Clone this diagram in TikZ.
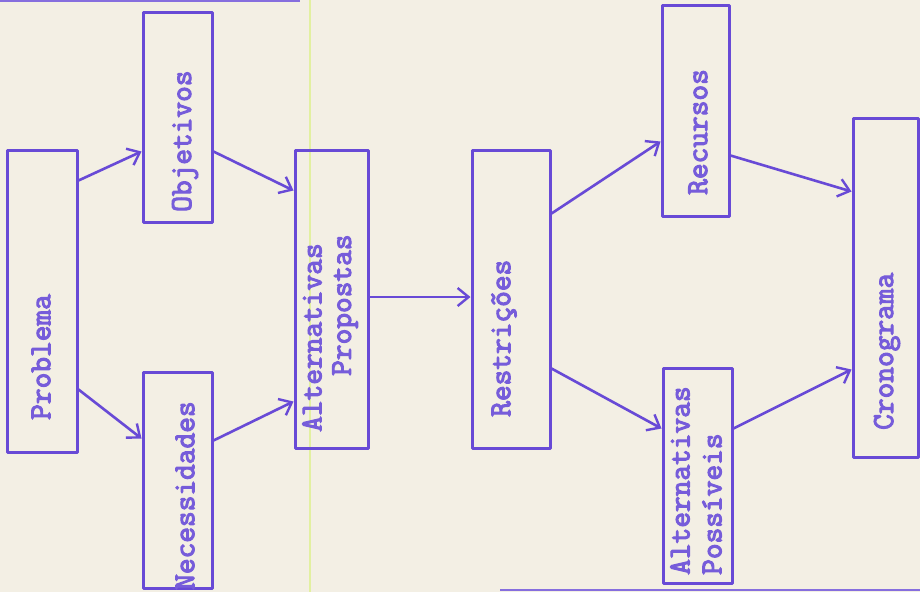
\documentclass[tikz,border=0pt]{standalone}
\usepackage{fontspec}
\setmonofont{Latin Modern Mono}[FakeBold=3.6]
\usetikzlibrary{arrows.meta}
\definecolor{paper}{RGB}{243,239,228}
\definecolor{ink}{RGB}{104,74,214}
\definecolor{typeink}{RGB}{118,92,218}
\definecolor{streak}{RGB}{226,240,160}
\tikzset{
  box/.style={draw=ink, line width=3pt, line join=round, rectangle, inner sep=0pt},
  lbl/.style={text=typeink, rotate=90, anchor=west, inner sep=0pt,
              font=\ttfamily\bfseries\fontsize{30.5}{34}\selectfont},
  conn/.style={draw=ink, line width=2.6pt, line cap=round,
               -{Straight Barb[length=11pt,width=18pt,line width=2.4pt]}},
  edgeline/.style={draw=ink!80, line width=2pt}
}
\begin{document}
\begin{tikzpicture}[x=1pt,y=-1pt]
\useasboundingbox (0,0) rectangle (920,592);
\fill[paper] (0,0) rectangle (920,592);
\draw[streak, line width=1.5pt] (310,0) -- (310,592);
\draw[edgeline] (0,1) -- (300,1);
\draw[edgeline] (500,590) -- (920,590);

% boxes
\node[box, minimum width=70pt, minimum height=302pt] (prob) at (42,301) {};
\node[box, minimum width=69pt, minimum height=210pt] (obj) at (177.5,117) {};
\node[box, minimum width=69pt, minimum height=216pt] (nec) at (177.5,480) {};
\node[box, minimum width=73pt, minimum height=298pt] (altp) at (331.5,299) {};
\node[box, minimum width=78pt, minimum height=298pt] (rest) at (511,299) {};
\node[box, minimum width=67pt, minimum height=211pt] (rec) at (695.5,110.5) {};
\node[box, minimum width=69pt, minimum height=215pt] (altpos) at (697.5,475.5) {};
\node[box, minimum width=65pt, minimum height=339pt] (cron) at (885.5,287.5) {};

% labels
\node[lbl] (tprob) at (41,420) {Problema};
\node[lbl] (tobj) at (185,212) {Objetivos};
\node[lbl] (tnec) at (185,590) {Necessidades};
\node[lbl] (taltp1) at (312,432) {Alternativas};
\node[lbl] (taltp2) at (345,376) {Propostas};
\node[lbl] (trest) at (504,417) {Restrições};
\node[lbl] (trec) at (698,195) {Recursos};
\node[lbl] (taltpos1) at (680,575) {Alternativas};
\node[lbl] (taltpos2) at (712,575) {Possíveis};
\node[lbl] (tcron) at (887,430) {Cronograma};

% connectors
\draw[conn] ([yshift=-32pt]prob.north east) -- ([yshift=-141pt]obj.north west);
\draw[conn] ([yshift=64pt]prob.south east) -- ([yshift=-68pt]nec.north west);
\draw[conn] ([yshift=-141pt]obj.north east) -- ([yshift=-42pt]altp.north west);
\draw[conn] ([yshift=-70pt]nec.north east) -- ([yshift=48pt]altp.south west);
\draw[conn] ([yshift=2pt]altp.east) -- ([yshift=2pt]rest.west);
\draw[conn] ([yshift=-65pt]rest.north east) -- ([yshift=-138pt]rec.north west);
\draw[conn] ([yshift=81pt]rest.south east) -- ([yshift=-62pt]altpos.north west);
\draw[conn] ([yshift=-152pt]rec.north east) -- ([yshift=-75pt]cron.north west);
\draw[conn] ([yshift=-62pt]altpos.north east) -- ([yshift=89pt]cron.south west);
\end{tikzpicture}
\end{document}
